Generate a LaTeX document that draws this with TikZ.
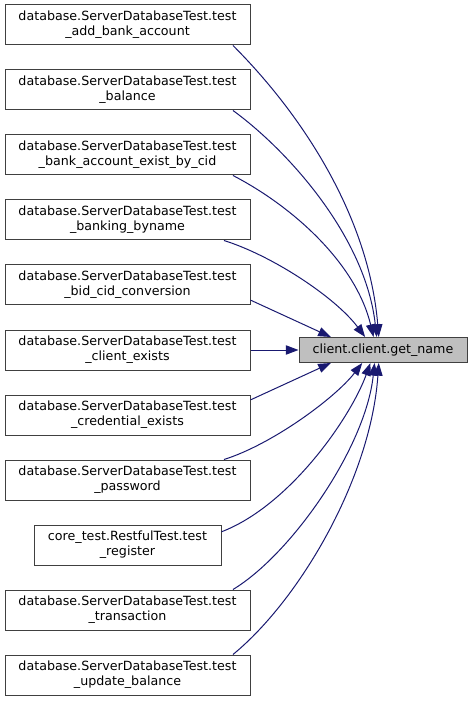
\documentclass[tikz,border=0pt]{standalone}
\usepackage{fontspec}
\setmainfont{DejaVu Sans}
\usetikzlibrary{positioning, arrows.meta}
\definecolor{EdgeBlue}{HTML}{191970}
\definecolor{Border}{HTML}{404040}
\definecolor{Focus}{HTML}{BFBFBF}

\begin{document}
\begin{tikzpicture}[
    x=0.75pt, y=-0.75pt,
    caller/.style={draw=Border, line width=0.75pt, fill=white, minimum width=183.75pt, minimum height=30pt, inner sep=2pt, align=center, font=\fontsize{9.5}{11.5}\selectfont},
    callee/.style={draw=Border, line width=0.75pt, fill=Focus, minimum width=126pt, minimum height=18.75pt, inner sep=2pt, font=\fontsize{9.5}{11.5}\selectfont},
    arr/.style={-{Triangle[length=9.5pt, width=7pt]}, color=EdgeBlue, line width=0.75pt}
]
\useasboundingbox (0,0) rectangle (471,705);

% Callers column
\node[caller] (b1) at (127.5,25) {database.ServerDatabaseTest.test\\\_add\_bank\_account};
\node[caller, below=18pt of b1] (b2) {database.ServerDatabaseTest.test\\\_balance};
\node[caller, below=18pt of b2] (b3) {database.ServerDatabaseTest.test\\\_bank\_account\_exist\_by\_cid};
\node[caller, below=18pt of b3] (b4) {database.ServerDatabaseTest.test\\\_banking\_byname};
\node[caller, below=18pt of b4] (b5) {database.ServerDatabaseTest.test\\\_bid\_cid\_conversion};
\node[caller, below=18pt of b5] (b6) {database.ServerDatabaseTest.test\\\_client\_exists};
\node[caller, below=18pt of b6] (b7) {database.ServerDatabaseTest.test\\\_credential\_exists};
\node[caller, below=18pt of b7] (b8) {database.ServerDatabaseTest.test\\\_password};
\node[caller, minimum width=140.25pt, below=18pt of b8] (b9) {core\_test.RestfulTest.test\\\_register};
\node[caller, below=18pt of b9] (b10) {database.ServerDatabaseTest.test\\\_transaction};
\node[caller, below=18pt of b10] (b11) {database.ServerDatabaseTest.test\\\_update\_balance};

% Called function
\node[callee, right=36pt of b6] (gn) {client.client.get\_name};

% Edges
\draw[arr] (b1.-11) .. controls +(70,70) and +(-10,-120) .. (gn.108);
\draw[arr] (b2.-11) .. controls +(55,40) and +(-11,-100) .. (gn.116);
\draw[arr] (b3.-11) .. controls +(58,30) and +(-18,-75) .. (gn.126);
\draw[arr] (b4.-12) .. controls +(48,15) and +(-30,-40) .. (gn.144);
\draw[arr] (b5.-7) -- (gn.166);
\draw[arr] (b6.east) -- (gn.west);
\draw[arr] (b7.7) -- (gn.194);
\draw[arr] (b8.12) .. controls +(48,-15) and +(-27,35) .. (gn.212);
\draw[arr] (b9.8) .. controls +(68,-26) and +(-20,55) .. (gn.226);
\draw[arr] (b10.11) .. controls +(58,-35) and +(-9,85) .. (gn.237);
\draw[arr] (b11.11) .. controls +(67,-55) and +(-8,115) .. (gn.252);

\end{tikzpicture}
\end{document}
